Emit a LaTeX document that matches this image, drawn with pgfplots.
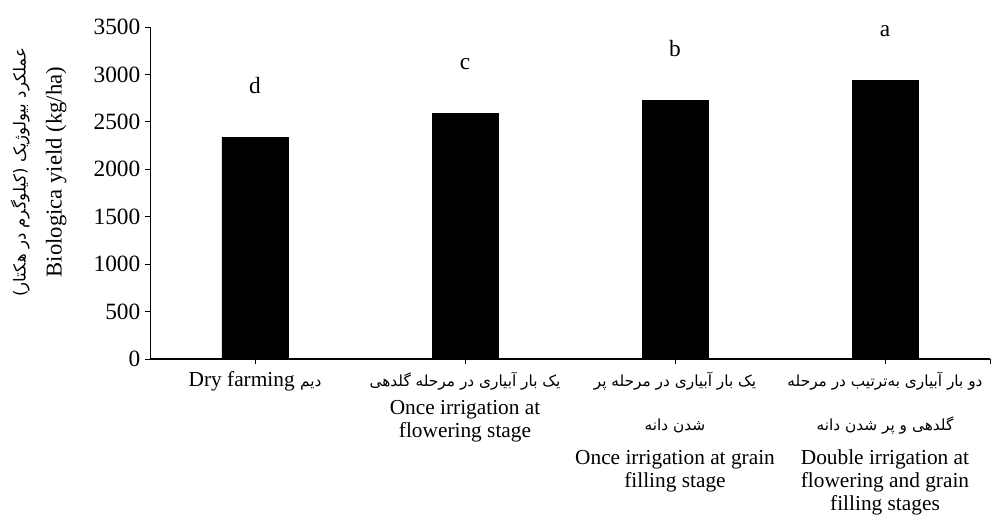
\documentclass[border=0pt]{standalone}
\usepackage{fontspec}
\usepackage{pgfplots}
\pgfplotsset{compat=1.18}
\setmainfont{Liberation Serif}
\newfontfamily\fa[Script=Arabic]{DejaVu Sans}
\TeXXeTstate=1
\begin{document}
\begin{tikzpicture}
\begin{axis}[
  scale only axis,
  width=630pt, height=249pt,
  xmin=-0.5, xmax=3.5,
  ymin=0, ymax=3500,
  axis lines*=left,
  x axis line style={line width=1.3pt},
  y axis line style={line width=0.6pt},
  ytick={0,500,...,3500},
  xtick={0,1,2,3,3.5},
  xticklabels={
    {\rule{0pt}{13pt}Dry farming {\fa\fontsize{11.5}{13}\selectfont\beginR دیم\endR}},
    {\rule{0pt}{13pt}{\fa\fontsize{11.5}{13}\selectfont\beginR یک بار آبیاری در مرحله گلدهی\endR}\\[4pt]Once irrigation at\\flowering stage},
    {\rule{0pt}{13pt}{\fa\fontsize{11.5}{13}\selectfont\beginR یک بار آبیاری در مرحله پر\endR}\\[16pt]{\fa\fontsize{11.5}{13}\selectfont\beginR شدن دانه\endR}\\[8pt]Once irrigation at grain\\filling stage},
    {\rule{0pt}{13pt}{\fa\fontsize{11.5}{13}\selectfont\beginR دو بار آبیاری به‌ترتیب در مرحله\endR}\\[16pt]{\fa\fontsize{11.5}{13}\selectfont\beginR گلدهی و پر شدن دانه\endR}\\[8pt]Double irrigation at\\flowering and grain\\filling stages},
    {}
  },
  xticklabel style={align=center, anchor=north, font=\fontsize{16}{17.25}\selectfont},
  yticklabel style={font=\fontsize{17.5}{20}\selectfont},
  /pgf/number format/assume math mode=true,
  /pgf/number format/set thousands separator={},
  tick align=outside,
  major tick length=3.75pt,
  tick style={black, line width=0.6pt},
  ylabel={{\fa\fontsize{12.4}{14}\selectfont\beginR عملکرد بیولوژیک (کیلوگرم در هکتار)\endR}\\[8pt]Biologica yield (kg/ha)},
  ylabel style={align=center, font=\fontsize{17}{19}\selectfont, at={(rel axis cs:-0.1325,0.563)}, anchor=center},
  nodes near coords={\pgfplotspointmeta},
  point meta=explicit symbolic,
  every node near coord/.append style={font=\fontsize{17.5}{20}\selectfont, anchor=base, yshift=33pt},
]
\addplot[ybar, bar width=49.5pt, fill=black, draw=black] table[x=x, y=y, meta=l] {
x y l
0 2333 d
1 2586 c
2 2723 b
3 2934 a
};
\coordinate (O) at (rel axis cs:0,0);
\coordinate (T) at (rel axis cs:1,1);
\end{axis}
\pgfresetboundingbox
\path[use as bounding box] ([xshift=-112.5pt,yshift=-117pt]O) rectangle ([xshift=0.75pt,yshift=20.25pt]T);
\end{tikzpicture}
\end{document}
